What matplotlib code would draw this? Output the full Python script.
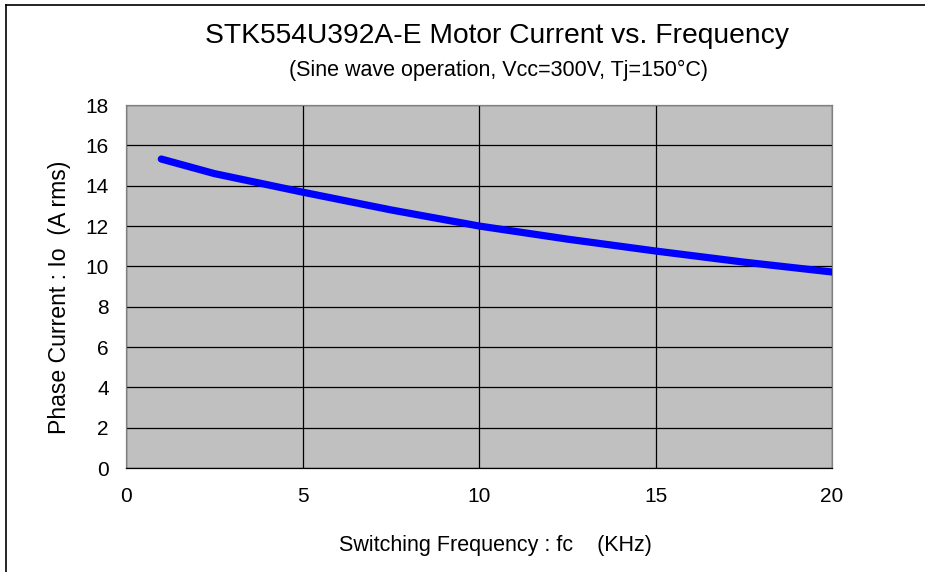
import matplotlib
matplotlib.use("Agg")
import matplotlib.pyplot as plt
from matplotlib.lines import Line2D

freq_khz = [1, 2.5, 5, 7.5, 10, 12.5, 15, 17.5, 20]
current_arms = [15.32, 14.6, 13.68, 12.8, 12.0, 11.35, 10.76, 10.21, 9.72]
x_ticks = [0, 5, 10, 15, 20]
y_ticks = [0, 2, 4, 6, 8, 10, 12, 14, 16, 18]

plt.rcParams['font.family'] = ['Liberation Sans', 'DejaVu Sans']

fig = plt.figure(figsize=(9.25, 5.72), dpi=100)
ax = fig.add_axes([126/925, 1-468/572, (832-126)/925, (468-105)/572])
ax.set_facecolor('#c0c0c0')
ax.plot(freq_khz, current_arms, color='#0000ff', lw=5.2, solid_capstyle='round', zorder=3)
ax.set_xlim(0, 20)
ax.set_ylim(0, 18)
ax.set_xticks(x_ticks)
ax.set_yticks(y_ticks)
ax.grid(True, color='black', lw=0.9)
ax.set_axisbelow(True)
ax.tick_params(length=0, labelsize=15, pad=0)
ax.tick_params(axis='x', pad=14)
ax.tick_params(axis='y', pad=12.5)
for s in ax.spines.values():
    s.set_color('#808080')
    s.set_linewidth(0.9)
ax.spines['bottom'].set_color('black')

fig.text(497/925, 1-36/572, 'STK554U392A-E Motor Current vs. Frequency', ha='center', va='center', fontsize=20.3)
fig.text(498/925, 1-70/572, '(Sine wave operation, Vcc=300V, Tj=150°C)', ha='center', va='center', fontsize=15.5)
fig.text(60/925, 1-297/572, 'Phase Current : Io  (A rms)', rotation=90, ha='center', va='center', fontsize=16.6)
fig.text(495/925, 1-545/572, 'Switching Frequency : fc    (KHz)', ha='center', va='center', fontsize=15.5)

fig.add_artist(Line2D([6/925, 1], [1-5/572, 1-5/572], transform=fig.transFigure, color='black', lw=1.2))
fig.add_artist(Line2D([6/925, 6/925], [0, 1-5/572], transform=fig.transFigure, color='black', lw=1.2))

fig.savefig('out.png', dpi=100)
